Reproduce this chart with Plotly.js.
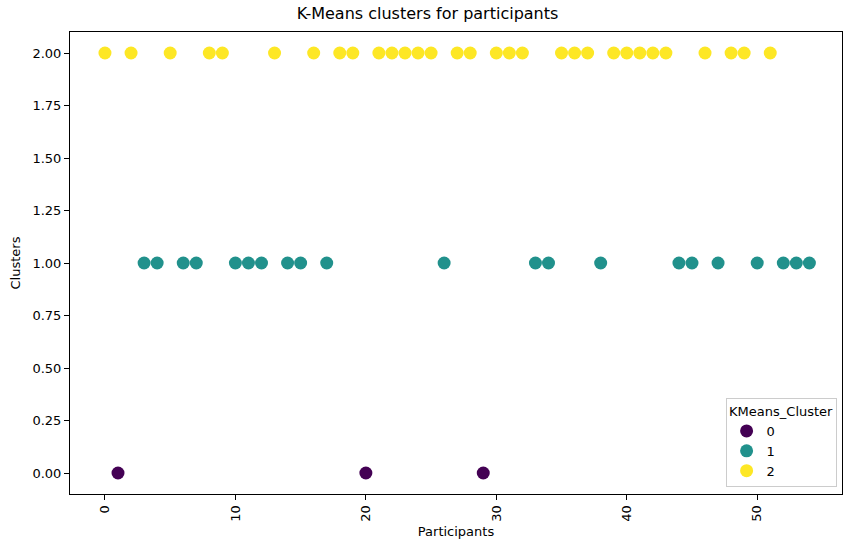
<!DOCTYPE html>
<html>
<head>
<meta charset="utf-8">
<script src="https://cdn.plot.ly/plotly-3.0.1.min.js"></script>
<style>html,body{margin:0;padding:0;background:#fff;}#chart{width:855px;height:551px;}</style>
</head>
<body>
<div id="chart"></div>
<script>
// Cluster assignment per participant index 0..54
const participants = [0,1,2,3,4,5,6,7,8,9,10,11,12,13,14,15,16,17,18,19,20,21,22,23,24,25,26,27,28,29,30,31,32,33,34,35,36,37,38,39,40,41,42,43,44,45,46,47,48,49,50,51,52,53,54];
const clusters =     [2,0,2,1,1,2,1,1,2,2,1,1,1,2,1,1,2,1,2,2,0,2,2,2,2,2,1,2,2,0,2,2,2,1,1,2,2,2,1,2,2,2,2,2,1,1,2,1,2,2,1,2,1,1,1];
const clusterLabels = [0, 1, 2];
const clusterColors = ['#440154', '#21918c', '#fde725'];
const yTicks = [0, 0.25, 0.5, 0.75, 1.0, 1.25, 1.5, 1.75, 2.0];
const xTicks = [0, 10, 20, 30, 40, 50];

const font = 'DejaVu Sans, sans-serif';
const traces = clusterLabels.map((c, i) => {
  const xs = [], ys = [];
  participants.forEach((p, j) => { if (clusters[j] === c) { xs.push(p); ys.push(clusters[j]); } });
  return {
    type: 'scatter', mode: 'markers', name: String(c), x: xs, y: ys,
    marker: {color: clusterColors[i], size: 13, line: {width: 0}}
  };
});

const layout = {
  width: 855, height: 551,
  margin: {l: 70, r: 13, t: 32, b: 57},
  paper_bgcolor: '#fff', plot_bgcolor: '#fff',
  font: {family: font, size: 13, color: '#000'},
  title: {text: 'K-Means clusters for participants', font: {family: font, size: 16, color: '#000'}, x: 0.5, xanchor: 'center', y: 0.985, yanchor: 'top'},
  xaxis: {
    range: [-2.68, 56.5], tickvals: xTicks, ticktext: xTicks.map(String), tickangle: -90,
    showgrid: false, zeroline: false, showline: true, linecolor: '#000', linewidth: 1, mirror: true,
    ticks: 'outside', ticklen: 5, tickcolor: '#000', tickfont: {size: 13},
    title: {text: 'Participants', font: {size: 13}, standoff: 6}
  },
  yaxis: {
    range: [-0.1, 2.1], tickvals: yTicks, ticktext: yTicks.map(v => v.toFixed(2)),
    showgrid: false, zeroline: false, showline: true, linecolor: '#000', linewidth: 1, mirror: true,
    ticks: 'outside', ticklen: 5, tickcolor: '#000', tickfont: {size: 13},
    title: {text: 'Clusters', font: {size: 13}, standoff: 8}
  },
  showlegend: true,
  legend: {
    x: 0.993, y: 0.015, xanchor: 'right', yanchor: 'bottom',
    bgcolor: 'rgba(255,255,255,0.8)', bordercolor: '#cccccc', borderwidth: 1,
    title: {text: 'KMeans_Cluster', side: 'top center', font: {size: 13}},
    font: {size: 13}, itemwidth: 30, tracegroupgap: 0
  }
};

Plotly.newPlot('chart', traces, layout, {displayModeBar: false, staticPlot: true});
</script>
</body>
</html>
